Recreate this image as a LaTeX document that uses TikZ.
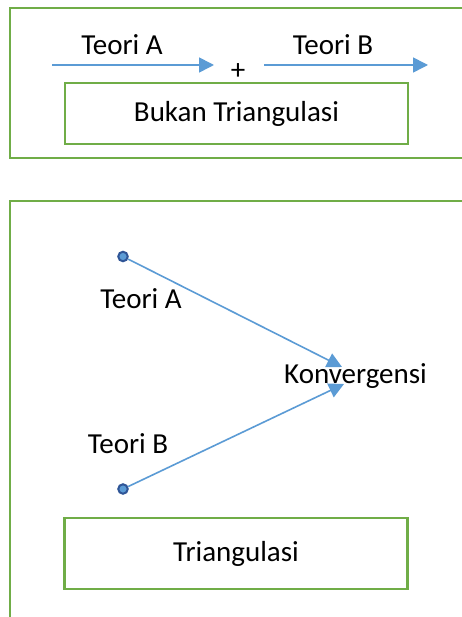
\documentclass[tikz,border=0pt]{standalone}
\usepackage{fontspec}
\setmainfont{Carlito}
\usetikzlibrary{arrows.meta}
\definecolor{frgreen}{HTML}{70AD47}
\definecolor{arblue}{HTML}{5B9BD5}
\definecolor{dotedge}{HTML}{2F5597}
\tikzset{
  frame/.style={draw=frgreen, line width=2.2pt},
  boxnode/.style={draw=frgreen, line width=2.2pt, minimum width=343pt, inner sep=0pt, font=\fontsize{29}{34}\selectfont},
  txt/.style={inner sep=0pt, anchor=base, font=\fontsize{29}{34}\selectfont},
  arr/.style={draw=arblue, line width=1.6pt, -{Triangle[length=15pt,width=15pt]}},
  dotnode/.style={circle, fill=arblue, draw=dotedge, line width=2pt, minimum size=9.5pt, inner sep=0pt}
}
\begin{document}
\begin{tikzpicture}[x=1pt,y=-1pt]
\useasboundingbox (0,0) rectangle (462,617);
\clip (0,0) rectangle (462,617);
\fill[white] (0,0) rectangle (462,617);
% top frame
\draw[frame] (10,8) rectangle (480,158);
\coordinate (a1s) at (52,65);
\coordinate (a1e) at (214,65);
\coordinate (a2s) at (264,65);
\coordinate (a2e) at (428,65);
\draw[arr] (a1s) -- (a1e);
\draw[arr] (a2s) -- (a2e);
\node[txt] (tA1) at (122,55) {Teori A};
\node[txt] (tB1) at (333,55) {Teori B};
\node[inner sep=0pt, font=\fontsize{29}{34}\selectfont] (plus) at (238,72) {+};
\node[boxnode, minimum height=61pt] (bukan) at (236.5,113.5) {Bukan Triangulasi};
% bottom frame
\draw[frame] (10,201) rectangle (480,660);
\node[dotnode] (dotA) at (123,256.5) {};
\node[dotnode] (dotB) at (123,489) {};
\coordinate (convA) at (342,367);
\coordinate (convB) at (344,384);
\draw[arr] (dotA) -- (convA);
\draw[arr] (dotB) -- (convB);
\node[txt] (tA2) at (141,308) {Teori A};
\node[txt] (konv) at (355.5,383) {Konvergensi};
\node[txt] (tB2) at (128,453) {Teori B};
\node[boxnode, minimum height=71pt] (tri) at (236,553.5) {Triangulasi};
\end{tikzpicture}
\end{document}
